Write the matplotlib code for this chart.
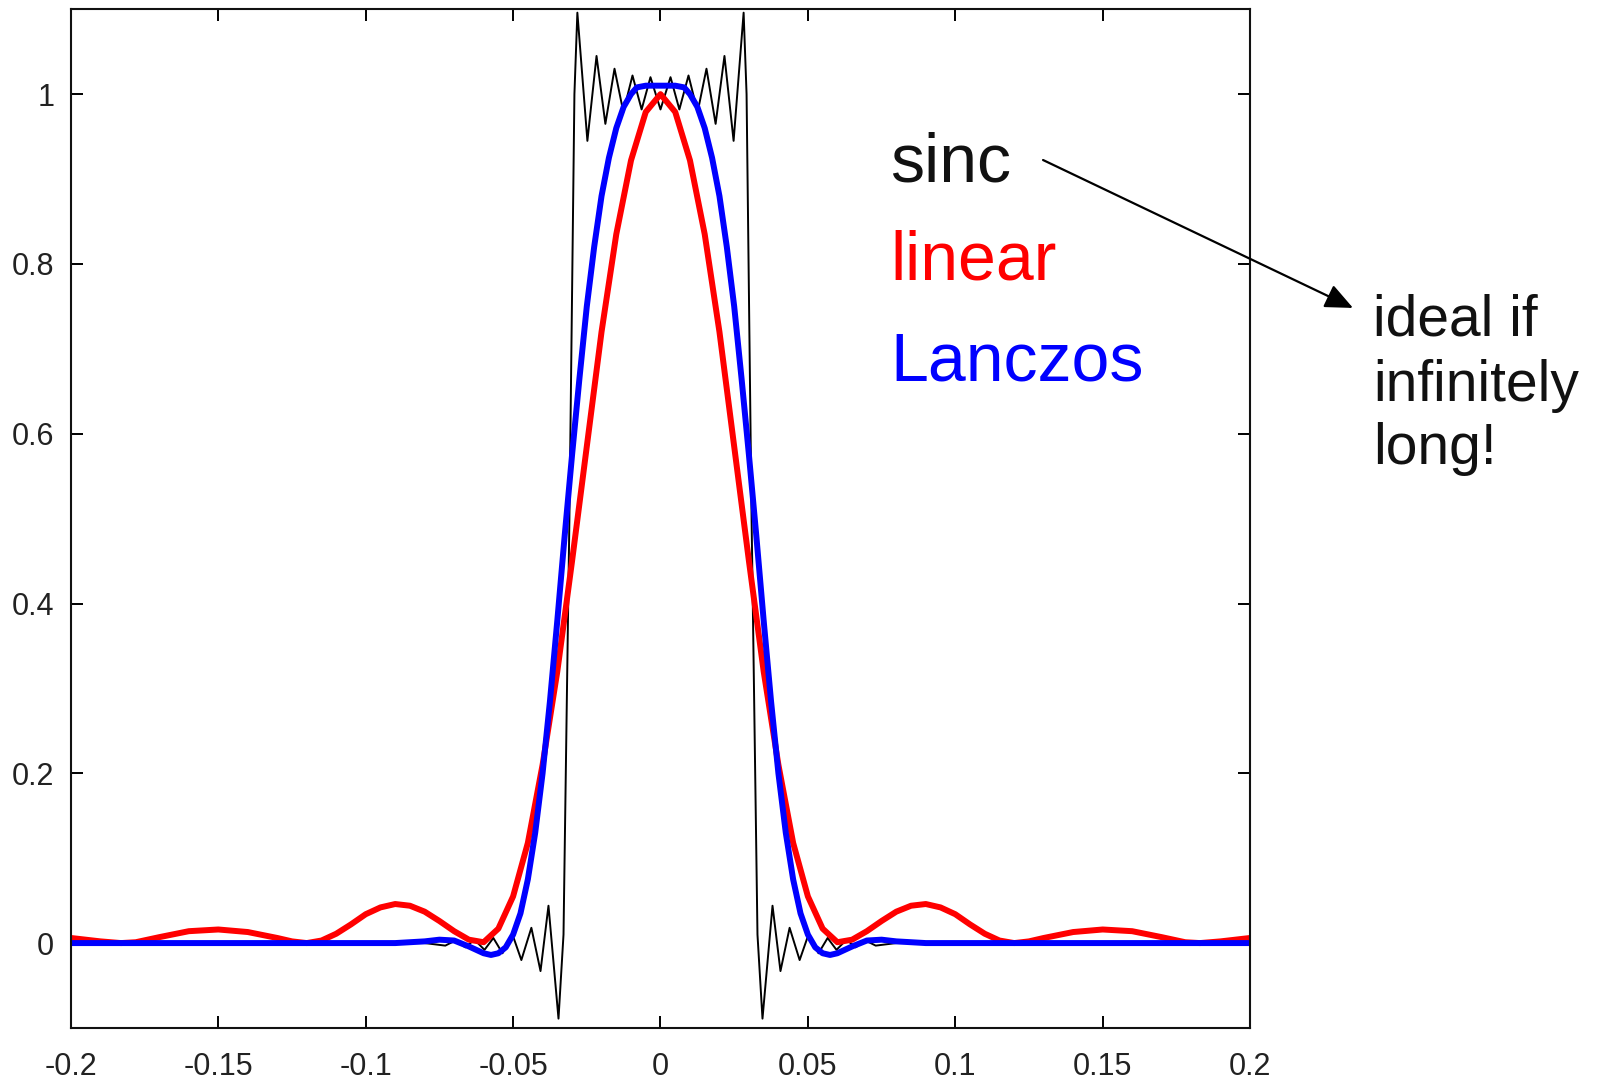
import numpy as np
import matplotlib
matplotlib.use("Agg")
import matplotlib.pyplot as plt

plt.rcParams['font.family'] = ['Liberation Sans', 'DejaVu Sans']

# right half of each curve (all three are symmetric about 0)
sinc_x = [0.0, 0.0034, 0.0064, 0.0095, 0.0126, 0.0156, 0.0187, 0.0217, 0.0248,
          0.0282, 0.0292, 0.0309, 0.0329, 0.0346, 0.0380, 0.0407, 0.0438, 0.0472,
          0.0502, 0.0536, 0.0567, 0.0597, 0.0631, 0.0662, 0.0696, 0.0730, 0.080, 0.2]
sinc_y = [0.982, 1.02, 0.982, 1.022, 0.979, 1.03, 0.965, 1.045, 0.945,
          1.096, 1.0, 0.5, 0.01, -0.089, 0.044, -0.033, 0.018, -0.02,
          0.01, -0.012, 0.006, -0.008, 0.004, -0.005, 0.003, -0.003, 0.0, 0.0]

linear_x = [0.0, 0.005, 0.010, 0.015, 0.020, 0.025, 0.030, 0.035, 0.040, 0.045,
            0.050, 0.055, 0.060, 0.065, 0.070, 0.075, 0.080, 0.085, 0.090, 0.095,
            0.100, 0.105, 0.110, 0.115, 0.120, 0.125, 0.130, 0.140, 0.150, 0.160,
            0.170, 0.178, 0.183, 0.190, 0.200]
linear_y = [1.0, 0.979, 0.922, 0.835, 0.72, 0.585, 0.45, 0.32, 0.21, 0.118,
            0.055, 0.017, 0.001, 0.004, 0.014, 0.026, 0.037, 0.044, 0.046, 0.042,
            0.034, 0.022, 0.011, 0.003, 0.0, 0.002, 0.006, 0.013, 0.016, 0.014,
            0.007, 0.001, 0.0, 0.002, 0.006]

lanczos_x = [0.0, 0.005, 0.008, 0.010, 0.0125, 0.015, 0.0175, 0.020, 0.0225, 0.025,
             0.0275, 0.030, 0.0325, 0.035, 0.0375, 0.040, 0.0425, 0.045, 0.0475,
             0.050, 0.0525, 0.055, 0.0575, 0.060, 0.065, 0.070, 0.075, 0.080,
             0.090, 0.200]
lanczos_y = [1.01, 1.01, 1.008, 1.0, 0.985, 0.96, 0.925, 0.88, 0.82, 0.75,
             0.665, 0.575, 0.48, 0.38, 0.285, 0.20, 0.13, 0.075, 0.035,
             0.01, -0.005, -0.012, -0.014, -0.012, -0.004, 0.003, 0.004, 0.002,
             0.0, 0.0]

labels = ['sinc', 'linear', 'Lanczos']
label_colors = ['#111111', '#ff0000', '#0000ff']
note_lines = ['ideal if', 'infinitely', 'long!']

x_ticks = [-0.2, -0.15, -0.1, -0.05, 0, 0.05, 0.1, 0.15, 0.2]
x_tick_labels = ['-0.2', '-0.15', '-0.1', '-0.05', '0', '0.05', '0.1', '0.15', '0.2']
y_ticks = [0, 0.2, 0.4, 0.6, 0.8, 1]
y_tick_labels = ['0', '0.2', '0.4', '0.6', '0.8', '1']


def mirror(xs, ys):
    xs = np.asarray(xs)
    ys = np.asarray(ys)
    return (np.concatenate([-xs[::-1], xs[1:]]),
            np.concatenate([ys[::-1], ys[1:]]))


fig = plt.figure(figsize=(16.01, 10.79), dpi=100)
ax = fig.add_axes([0.0443, 0.0473, 0.7365, 0.9441])

sx, sy = mirror(sinc_x, sinc_y)
lx, ly = mirror(linear_x, linear_y)
bx, by = mirror(lanczos_x, lanczos_y)

ax.plot(sx, sy, color='black', lw=1.4)
ax.plot(lx, ly, color='#ff0000', lw=4.3)
ax.plot(bx, by, color='#0000ff', lw=4.3)

ax.set_xlim(-0.2, 0.2)
ax.set_ylim(-0.1, 1.1)
ax.set_xticks(x_ticks)
ax.set_xticklabels(x_tick_labels)
ax.set_yticks(y_ticks)
ax.set_yticklabels(y_tick_labels)
ax.tick_params(direction='in', top=True, right=True, length=8.5, width=1.4,
               labelsize=22, labelcolor='#222222')
ax.tick_params(axis='x', pad=17)
ax.tick_params(axis='y', pad=12)
for sp in ax.spines.values():
    sp.set_linewidth(1.5)
    sp.set_color('#111111')

# legend-like coloured words
label_base = [0.832, 0.7414, 0.6478]
for txt, col, yb in zip(labels, label_colors, label_base):
    fig.text(0.556, yb, txt, color=col, fontsize=49, va='baseline', ha='left')

note_base = [0.6895, 0.6284, 0.5700]
for txt, yb in zip(note_lines, note_base):
    fig.text(0.8576, yb, txt, color='#111111', fontsize=41, va='baseline', ha='left')

ax.annotate('', xy=(0.8451, 0.7146), xycoords='figure fraction',
            xytext=(0.6515, 0.8517), textcoords='figure fraction',
            arrowprops=dict(arrowstyle='-|>,head_length=1.7,head_width=0.75',
                            color='black', lw=1.6, shrinkA=0, shrinkB=0),
            annotation_clip=False)

fig.savefig('out.png', dpi=100)
